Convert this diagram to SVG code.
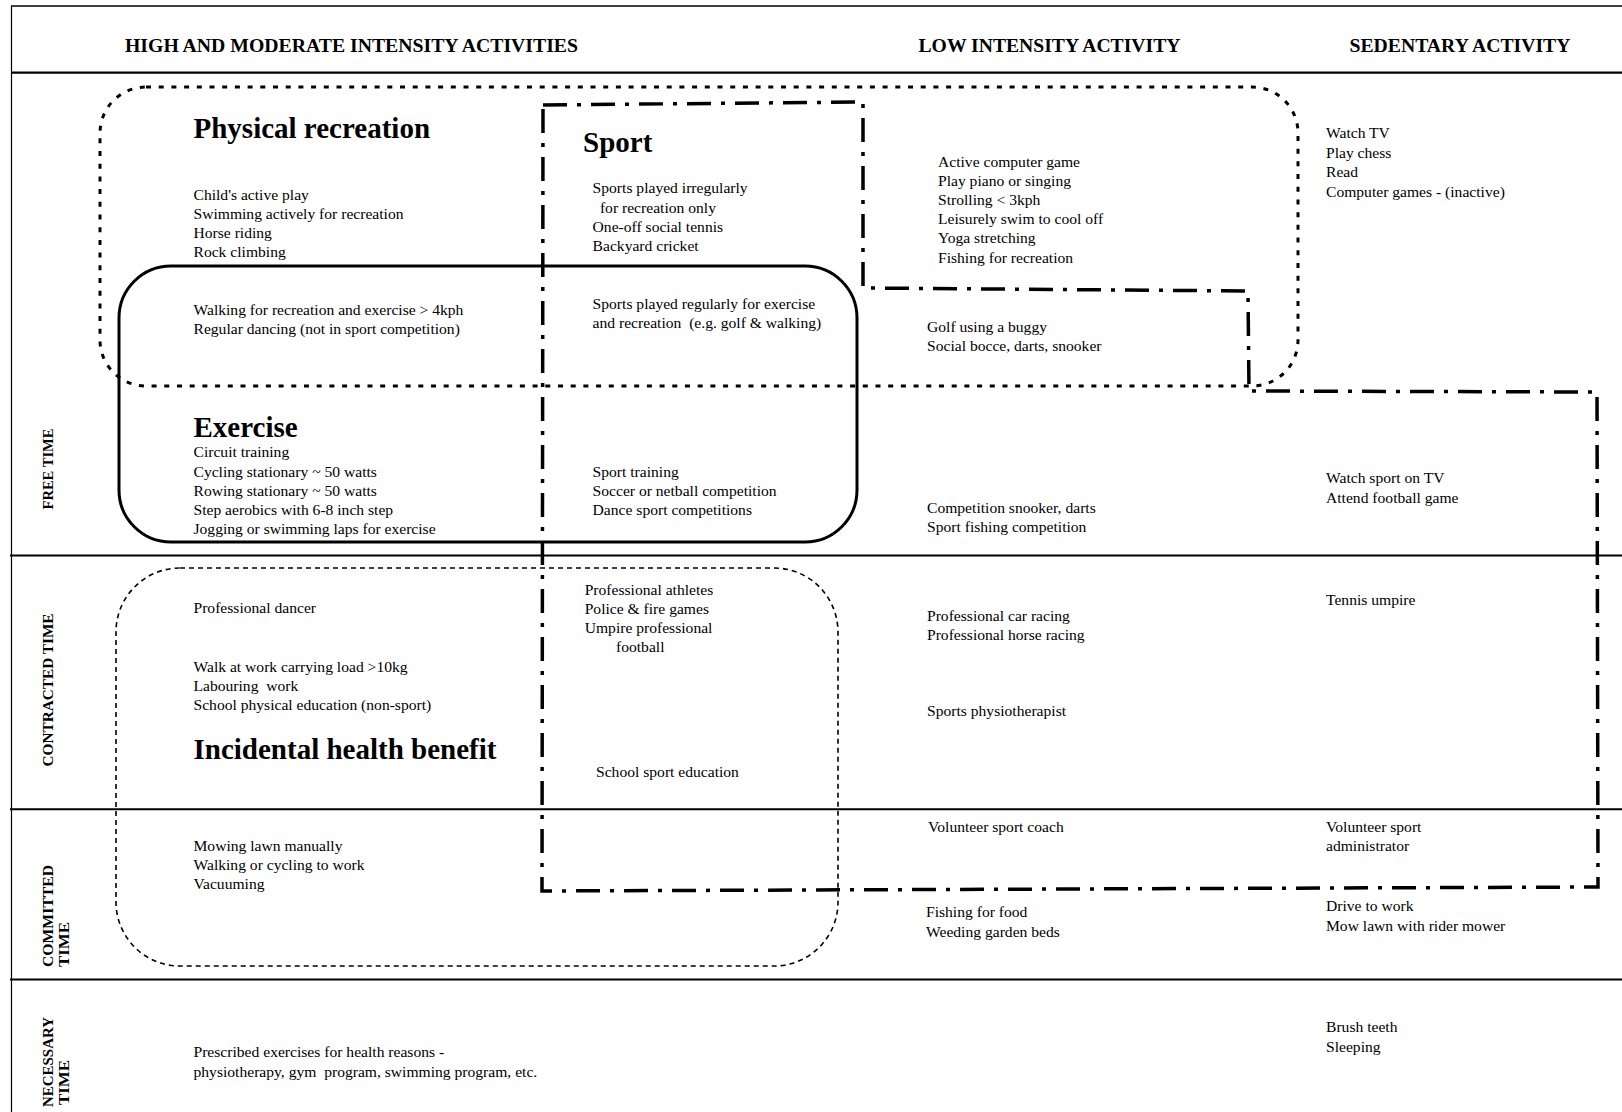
<svg xmlns="http://www.w3.org/2000/svg" width="1622" height="1112" viewBox="0 0 1622 1112">
<style>
  .t { font-family: "Liberation Serif", "Times New Roman", serif; font-size: 15.6px; fill: #000; white-space: pre; }
  .h { font-family: "Liberation Serif", "Times New Roman", serif; font-size: 19px; font-weight: bold; fill: #000; }
  .r { font-family: "Liberation Serif", "Times New Roman", serif; font-size: 14.5px; font-weight: bold; fill: #000; }
  .title { font-family: "Liberation Serif", "Times New Roman", serif; font-size: 29px; font-weight: bold; fill: #000; }
  .grid { stroke: #000; fill: none; }
  .dotted { fill: none; stroke: #000; stroke-width: 3; stroke-dasharray: 5 7.7; }
  .solid { fill: none; stroke: #000; stroke-width: 3; }
  .dashed { fill: none; stroke: #000; stroke-width: 1.6; stroke-dasharray: 5 4; }
  .dashdot { fill: none; stroke: #000; stroke-width: 3.5; stroke-dasharray: 24 10 4 10; }
</style>
<rect width="1622" height="1112" fill="#fff"/>

<g id="frame">
  <line class="grid" x1="11" y1="6" x2="1622" y2="6" stroke-width="1.5"/>
  <line class="grid" x1="11.5" y1="6" x2="11.5" y2="1112" stroke-width="1.2"/>
  <line class="grid" x1="11" y1="72.7" x2="1622" y2="72.7" stroke-width="2.2"/>
  <line class="grid" x1="10" y1="555.5" x2="1622" y2="555.5" stroke-width="2.2"/>
  <line class="grid" x1="10" y1="809.3" x2="1622" y2="809.3" stroke-width="2"/>
  <line class="grid" x1="10" y1="979.5" x2="1622" y2="979.5" stroke-width="2.2"/>
</g>

<g id="column-headers">
  <text class="h" x="125" y="52" textLength="453" lengthAdjust="spacingAndGlyphs">HIGH AND MODERATE INTENSITY ACTIVITIES</text>
  <text class="h" x="918.5" y="52" textLength="262" lengthAdjust="spacingAndGlyphs">LOW INTENSITY ACTIVITY</text>
  <text class="h" x="1349.5" y="52" textLength="221" lengthAdjust="spacingAndGlyphs">SEDENTARY ACTIVITY</text>
</g>

<g id="row-labels">
  <text class="r" transform="translate(52.5,469) rotate(-90)" text-anchor="middle" textLength="81" lengthAdjust="spacingAndGlyphs">FREE TIME</text>
  <text class="r" transform="translate(52.5,690) rotate(-90)" text-anchor="middle" textLength="153" lengthAdjust="spacingAndGlyphs">CONTRACTED TIME</text>
  <text class="r" transform="translate(53,967) rotate(-90)" textLength="102" lengthAdjust="spacingAndGlyphs">COMMITTED</text>
  <text class="r" transform="translate(68.5,967) rotate(-90)" textLength="45" lengthAdjust="spacingAndGlyphs">TIME</text>
  <text class="r" transform="translate(53,1107) rotate(-90)" textLength="90" lengthAdjust="spacingAndGlyphs">NECESSARY</text>
  <text class="r" transform="translate(68.5,1105) rotate(-90)" textLength="45" lengthAdjust="spacingAndGlyphs">TIME</text>
</g>

<g id="physical-recreation">
  <rect class="dotted" x="100" y="87" width="1198" height="299" rx="46" ry="46"/>
  <text class="title" x="193.5" y="138">Physical recreation</text>
</g>

<g id="exercise">
  <rect class="solid" x="119" y="266" width="738" height="276" rx="52" ry="52"/>
  <text class="title" x="193.5" y="436.5">Exercise</text>
</g>

<g id="incidental-health-benefit">
  <rect class="dashed" x="116" y="568" width="722" height="398" rx="64" ry="64"/>
  <text class="title" x="193.5" y="759">Incidental health benefit</text>
</g>

<g id="sport">
  <path class="dashdot" d="M543,105 L863,102 L863,288 L1248,291 L1249,391 L1597,392 L1598,887 L542,891 Z"/>
  <text class="title" x="583" y="151.5">Sport</text>
</g>

<g id="connectors"></g>

<g id="cell-high-free">
  <text class="t" x="193.5" y="200">Child's active play</text>
  <text class="t" x="193.5" y="219">Swimming actively for recreation</text>
  <text class="t" x="193.5" y="238">Horse riding</text>
  <text class="t" x="193.5" y="257">Rock climbing</text>
  <text class="t" x="193.5" y="315">Walking for recreation and exercise &gt; 4kph</text>
  <text class="t" x="193.5" y="334">Regular dancing (not in sport competition)</text>
  <text class="t" x="193.5" y="457">Circuit training</text>
  <text class="t" x="193.5" y="476.5">Cycling stationary ~ 50 watts</text>
  <text class="t" x="193.5" y="495.7">Rowing stationary ~ 50 watts</text>
  <text class="t" x="193.5" y="515">Step aerobics with 6-8 inch step</text>
  <text class="t" x="193.5" y="534">Jogging or swimming laps for exercise</text>
</g>

<g id="cell-sport-free">
  <text class="t" x="592.6" y="193.3">Sports played irregularly</text>
  <text class="t" x="596" y="213"> for recreation only</text>
  <text class="t" x="592.6" y="231.7">One-off social tennis</text>
  <text class="t" x="592.6" y="250.5">Backyard cricket</text>
  <text class="t" x="592.6" y="308.5">Sports played regularly for exercise</text>
  <text class="t" x="592.6" y="328">and recreation  (e.g. golf &amp; walking)</text>
  <text class="t" x="592.6" y="476.7">Sport training</text>
  <text class="t" x="592.6" y="495.7">Soccer or netball competition</text>
  <text class="t" x="592.6" y="515">Dance sport competitions</text>
</g>

<g id="cell-high-contracted">
  <text class="t" x="193.5" y="613">Professional dancer</text>
  <text class="t" x="193.5" y="671.5">Walk at work carrying load &gt;10kg</text>
  <text class="t" x="193.5" y="690.5">Labouring  work</text>
  <text class="t" x="193.5" y="709.5">School physical education (non-sport)</text>
  <text class="t" x="584.7" y="595">Professional athletes</text>
  <text class="t" x="584.7" y="613.5">Police &amp; fire games</text>
  <text class="t" x="584.7" y="632.5">Umpire professional</text>
  <text class="t" x="616" y="651.5">football</text>
  <text class="t" x="596" y="776.7">School sport education</text>
</g>

<g id="cell-high-committed">
  <text class="t" x="193.5" y="850.7">Mowing lawn manually</text>
  <text class="t" x="193.5" y="870">Walking or cycling to work</text>
  <text class="t" x="193.5" y="889">Vacuuming</text>
</g>

<g id="cell-high-necessary">
  <text class="t" x="193.5" y="1056.7">Prescribed exercises for health reasons -</text>
  <text class="t" x="193.5" y="1076.7">physiotherapy, gym  program, swimming program, etc.</text>
</g>

<g id="cell-low">
  <text class="t" x="938" y="166.5">Active computer game</text>
  <text class="t" x="938" y="185.7">Play piano or singing</text>
  <text class="t" x="938" y="204.9">Strolling &lt; 3kph</text>
  <text class="t" x="938" y="224.1">Leisurely swim to cool off</text>
  <text class="t" x="938" y="243.3">Yoga stretching</text>
  <text class="t" x="938" y="262.5">Fishing for recreation</text>
  <text class="t" x="927" y="331.5">Golf using a buggy</text>
  <text class="t" x="927" y="351">Social bocce, darts, snooker</text>
  <text class="t" x="927" y="512.7">Competition snooker, darts</text>
  <text class="t" x="927" y="531.7">Sport fishing competition</text>
  <text class="t" x="927" y="620.7">Professional car racing</text>
  <text class="t" x="927" y="640">Professional horse racing</text>
  <text class="t" x="927" y="716">Sports physiotherapist</text>
  <text class="t" x="928" y="831.7">Volunteer sport coach</text>
  <text class="t" x="926" y="917.3">Fishing for food</text>
  <text class="t" x="926" y="936.7">Weeding garden beds</text>
</g>

<g id="cell-sedentary">
  <text class="t" x="1326" y="138.3">Watch TV</text>
  <text class="t" x="1326" y="157.5">Play chess</text>
  <text class="t" x="1326" y="176.7">Read</text>
  <text class="t" x="1326" y="196.5">Computer games - (inactive)</text>
  <text class="t" x="1326" y="483.3">Watch sport on TV</text>
  <text class="t" x="1326" y="502.7">Attend football game</text>
  <text class="t" x="1326" y="605">Tennis umpire</text>
  <text class="t" x="1326" y="831.7">Volunteer sport</text>
  <text class="t" x="1326" y="850.7">administrator</text>
  <text class="t" x="1326" y="911">Drive to work</text>
  <text class="t" x="1326" y="930.7">Mow lawn with rider mower</text>
  <text class="t" x="1326" y="1032.3">Brush teeth</text>
  <text class="t" x="1326" y="1051.7">Sleeping</text>
</g>
</svg>
